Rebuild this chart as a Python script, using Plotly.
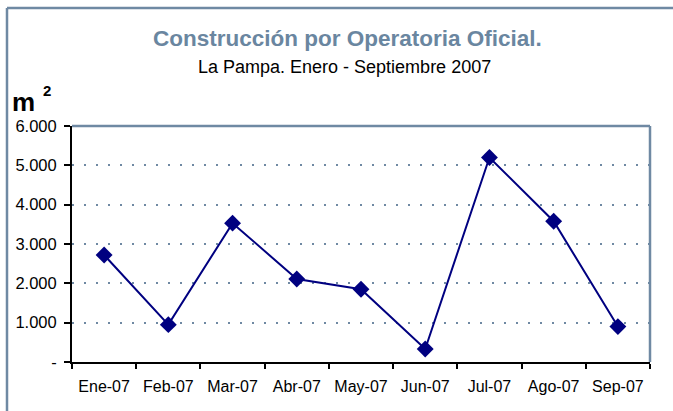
import plotly.graph_objects as go

months = ["Ene-07", "Feb-07", "Mar-07", "Abr-07", "May-07", "Jun-07", "Jul-07", "Ago-07", "Sep-07"]
values = [2720, 950, 3530, 2110, 1850, 330, 5200, 3580, 900]
ytick_vals = [0, 1000, 2000, 3000, 4000, 5000, 6000]
ytick_text = ["-", "1.000", "2.000", "3.000", "4.000", "5.000", "6.000"]

W, H = 673, 411
L, R, T, B = 72, 650, 126, 362
FONT = "Liberation Sans, Arial, sans-serif"
SLATE = "#6f89a3"

def px_x(px):
    return (px - L) / (R - L)

def px_y(py):
    return (B - py) / (B - T)

fig = go.Figure()
fig.add_trace(go.Scatter(
    x=months, y=values, mode="lines+markers",
    line=dict(color="#000080", width=2),
    marker=dict(symbol="diamond", size=13, color="#000080"),
    showlegend=False, hoverinfo="x+y",
))

fig.update_layout(
    width=W, height=H,
    margin=dict(l=L, r=W - R, t=T, b=H - B, pad=0),
    paper_bgcolor="white", plot_bgcolor="white",
    font=dict(family=FONT, color="black", size=16),
    xaxis=dict(
        type="category", range=[-0.5, 8.5],
        showline=True, linecolor="black", linewidth=2,
        ticks="outside", ticklen=5, tickcolor="black", tickwidth=2,
        tickson="boundaries", showgrid=False, zeroline=False,
        tickfont=dict(size=16, family=FONT), ticklabelstandoff=9,
    ),
    yaxis=dict(
        range=[0, 6000], tickvals=ytick_vals, ticktext=ytick_text,
        showline=True, linecolor="black", linewidth=2,
        ticks="outside", ticklen=6, tickcolor="black", tickwidth=2,
        showgrid=True, gridcolor=SLATE, gridwidth=2, griddash="2px,10px",
        zeroline=False, tickfont=dict(size=16.5, family=FONT), ticklabelstandoff=4,
    ),
    shapes=[
        # plot area top & right border
        dict(type="line", xref="paper", yref="paper", x0=0, x1=1, y0=1, y1=1,
             line=dict(color=SLATE, width=2.5)),
        dict(type="line", xref="paper", yref="paper", x0=1, x1=1, y0=0, y1=1,
             line=dict(color=SLATE, width=2.5)),
        # outer chart border (top & left)
        dict(type="line", xref="paper", yref="paper", x0=px_x(7), x1=px_x(W + 5),
             y0=px_y(8), y1=px_y(8), line=dict(color=SLATE, width=2.5)),
        dict(type="line", xref="paper", yref="paper", x0=px_x(7), x1=px_x(7),
             y0=px_y(8), y1=px_y(H + 5), line=dict(color=SLATE, width=2.5)),
    ],
    annotations=[
        dict(text="<b>Construcción por Operatoria Oficial.</b>", xref="paper", yref="paper",
             x=px_x(347), y=px_y(38), xanchor="center", yanchor="middle", showarrow=False,
             font=dict(size=22.5, color="#6a86a0", family=FONT)),
        dict(text="La Pampa. Enero - Septiembre 2007", xref="paper", yref="paper",
             x=px_x(344), y=px_y(67), xanchor="center", yanchor="middle", showarrow=False,
             font=dict(size=18, color="black", family=FONT)),
        dict(text="<b>m</b>", xref="paper", yref="paper",
             x=px_x(10), y=px_y(102), xanchor="left", yanchor="middle", showarrow=False,
             font=dict(size=26, color="black", family=FONT)),
        dict(text="<b>2</b>", xref="paper", yref="paper",
             x=px_x(41), y=px_y(91), xanchor="left", yanchor="middle", showarrow=False,
             font=dict(size=15, color="black", family=FONT)),
    ],
)

fig.write_html("out.html", config={"displayModeBar": False},
               post_script="document.body.style.margin='0';")
